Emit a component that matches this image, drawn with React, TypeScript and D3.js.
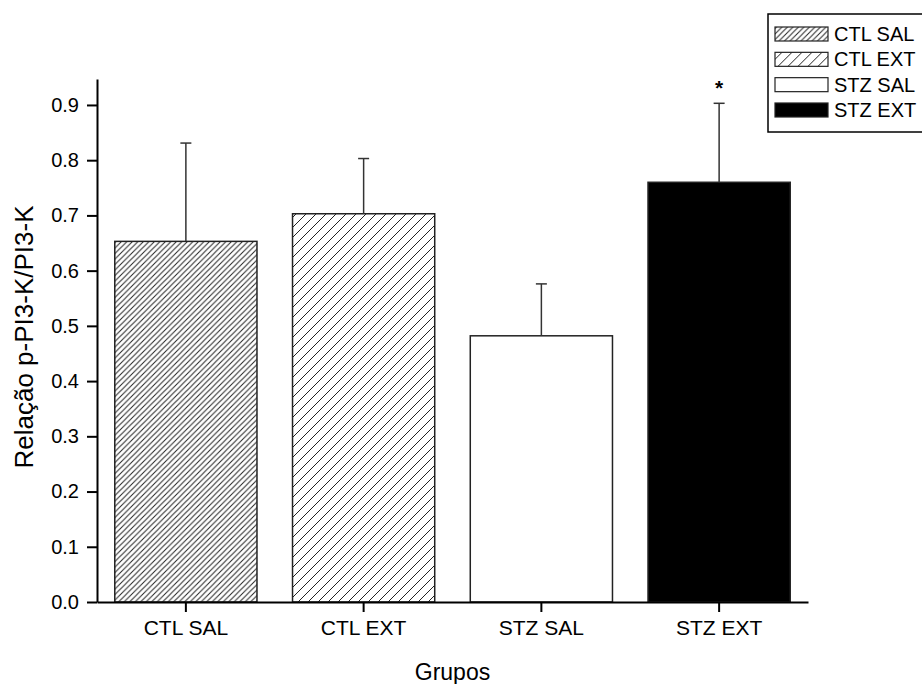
import React, { useEffect, useRef } from 'react';
import * as d3 from 'd3';

const groups = ['CTL SAL', 'CTL EXT', 'STZ SAL', 'STZ EXT'];
const means = [0.653, 0.703, 0.482, 0.760];
const errors = [0.178, 0.100, 0.094, 0.143];
const fills = ['url(#hatchDense)', 'url(#hatchSparse)', '#ffffff', '#000000'];
const yTicks = [0, 0.1, 0.2, 0.3, 0.4, 0.5, 0.6, 0.7, 0.8, 0.9];
const marks = ['', '', '', '*'];

const App = () => {
  const svgRef = useRef(null);

  useEffect(() => {
    const width = 922;
    const height = 684;
    const margin = { top: 79, right: 114, bottom: 82, left: 97 };
    const font = 'Arial, "Liberation Sans", sans-serif';

    const svg = d3.select(svgRef.current)
      .attr('width', width)
      .attr('height', height);
    svg.selectAll('*').remove();

    const defs = svg.append('defs');
    const hatch = (id, s) => {
      const p = defs.append('pattern')
        .attr('id', id)
        .attr('patternUnits', 'userSpaceOnUse')
        .attr('width', s)
        .attr('height', s);
      p.append('rect').attr('width', s).attr('height', s).attr('fill', 'white');
      p.append('path')
        .attr('d', `M0,${s} L${s},0 M${-s / 4},${s / 4} L${s / 4},${-s / 4} M${s - s / 4},${s + s / 4} L${s + s / 4},${s - s / 4}`)
        .attr('stroke', '#222')
        .attr('stroke-width', 1);
    };
    hatch('hatchDense', 5.5);
    hatch('hatchSparse', 10);

    const x = d3.scaleBand()
      .domain(groups)
      .range([margin.left, width - margin.right])
      .paddingInner(0.2)
      .paddingOuter(0.1);

    // 0.0 sits at 602, axis top at 79
    const y = d3.scaleLinear()
      .domain([0, 0.947])
      .range([height - margin.bottom, margin.top]);

    // bars
    svg.selectAll('.bar')
      .data(groups)
      .enter()
      .append('rect')
      .attr('class', 'bar')
      .attr('x', d => x(d))
      .attr('y', (d, i) => y(means[i]))
      .attr('width', x.bandwidth())
      .attr('height', (d, i) => y(0) - y(means[i]))
      .attr('fill', (d, i) => fills[i])
      .attr('stroke', '#222')
      .attr('stroke-width', 1.5);

    // error bars (upper only)
    const eb = svg.selectAll('.err')
      .data(groups)
      .enter()
      .append('g')
      .attr('class', 'err');
    eb.append('line')
      .attr('x1', d => x(d) + x.bandwidth() / 2)
      .attr('x2', d => x(d) + x.bandwidth() / 2)
      .attr('y1', (d, i) => y(means[i]))
      .attr('y2', (d, i) => y(means[i] + errors[i]))
      .attr('stroke', '#333')
      .attr('stroke-width', 1.5);
    eb.append('line')
      .attr('x1', d => x(d) + x.bandwidth() / 2 - 5.5)
      .attr('x2', d => x(d) + x.bandwidth() / 2 + 5.5)
      .attr('y1', (d, i) => y(means[i] + errors[i]))
      .attr('y2', (d, i) => y(means[i] + errors[i]))
      .attr('stroke', '#333')
      .attr('stroke-width', 1.5);

    svg.selectAll('.mark')
      .data(groups)
      .enter()
      .append('text')
      .attr('x', d => x(d) + x.bandwidth() / 2)
      .attr('y', (d, i) => y(means[i] + errors[i]) - 8)
      .attr('text-anchor', 'middle')
      .style('font-family', font)
      .style('font-size', '21px')
      .style('font-weight', 'bold')
      .text((d, i) => marks[i]);

    // axes
    const yAxis = svg.append('g')
      .attr('transform', `translate(${margin.left},0)`)
      .call(d3.axisLeft(y).tickValues(yTicks).tickFormat(d3.format('.1f')).tickSize(10).tickSizeOuter(0));
    yAxis.select('.domain').attr('stroke', '#000').attr('stroke-width', 2);
    yAxis.selectAll('.tick line').attr('stroke', '#000').attr('stroke-width', 2);
    yAxis.selectAll('.tick text')
      .attr('x', -18)
      .style('font-family', font)
      .style('font-size', '20px')
      .attr('fill', '#000');

    const xAxis = svg.append('g')
      .attr('transform', `translate(0,${y(0)})`)
      .call(d3.axisBottom(x).tickSize(10).tickSizeOuter(0));
    xAxis.select('.domain').attr('stroke', '#000').attr('stroke-width', 2);
    xAxis.selectAll('.tick line').attr('stroke', '#000').attr('stroke-width', 2);
    xAxis.selectAll('.tick text')
      .attr('y', 18)
      .style('font-family', font)
      .style('font-size', '21px')
      .attr('fill', '#000');

    // axis titles
    svg.append('text')
      .attr('x', (margin.left + width - margin.right) / 2)
      .attr('y', 680)
      .attr('text-anchor', 'middle')
      .style('font-family', font)
      .style('font-size', '23px')
      .text('Grupos');

    svg.append('text')
      .attr('transform', `translate(33,337) rotate(-90)`)
      .attr('text-anchor', 'middle')
      .style('font-family', font)
      .style('font-size', '26px')
      .text('Relação p-PI3-K/PI3-K');

    // legend
    const legend = svg.append('g');
    legend.append('rect')
      .attr('x', 768)
      .attr('y', 14)
      .attr('width', 170)
      .attr('height', 118)
      .attr('fill', 'white')
      .attr('stroke', '#000')
      .attr('stroke-width', 1.5);
    const rowY = d3.scalePoint().domain(groups).range([34, 110]);
    const items = legend.selectAll('.item')
      .data(groups)
      .enter()
      .append('g')
      .attr('transform', d => `translate(775,${rowY(d)})`);
    items.append('rect')
      .attr('x', 0)
      .attr('y', -7)
      .attr('width', 53)
      .attr('height', 14)
      .attr('fill', (d, i) => fills[i])
      .attr('stroke', '#222')
      .attr('stroke-width', 1.2);
    items.append('text')
      .attr('x', 59)
      .attr('dy', '0.35em')
      .style('font-family', font)
      .style('font-size', '20px')
      .text(d => d);
  }, []);

  return (
    <svg ref={svgRef} style={{ position: 'absolute', left: 0, top: 0, background: 'white' }}></svg>
  );
};

export default App;
